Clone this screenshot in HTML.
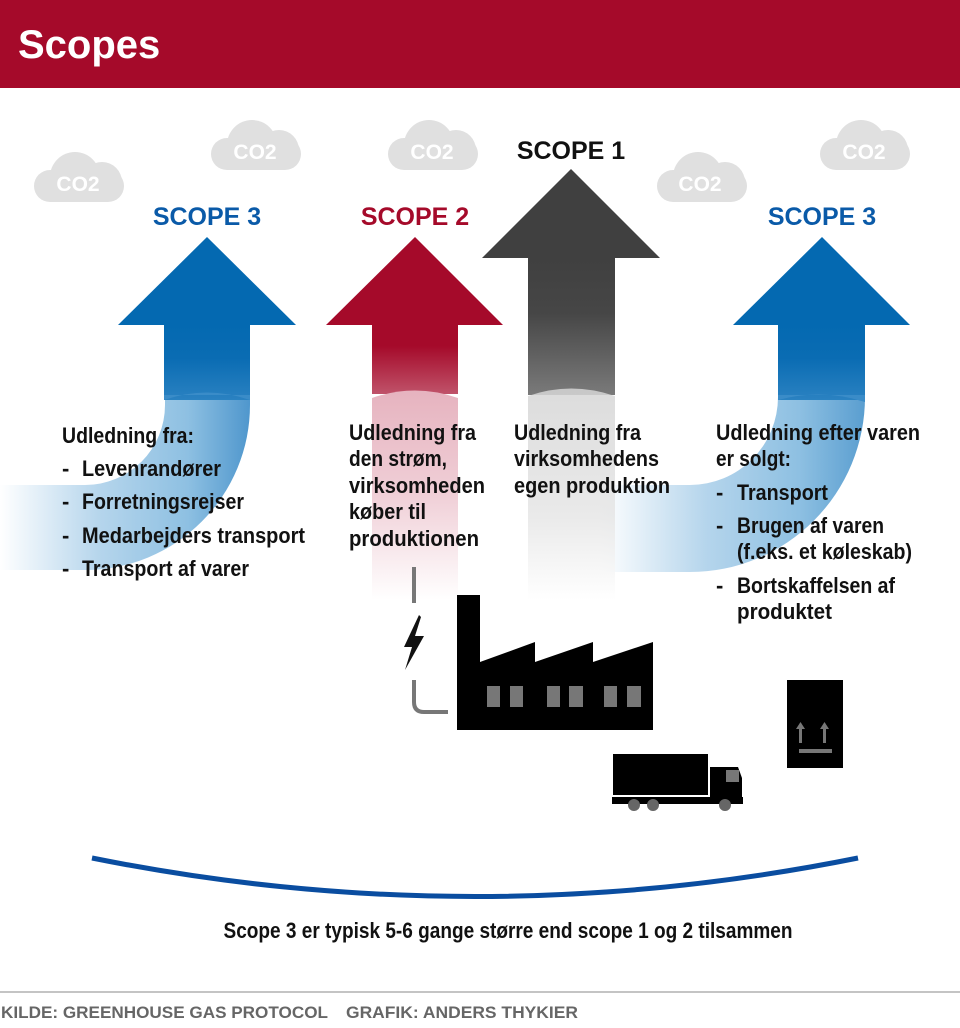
<!DOCTYPE html>
<html><head><meta charset="utf-8"><style>
html,body{margin:0;padding:0;background:#fff;}
svg{display:block;}
text{font-family:"Liberation Sans Narrow","Liberation Sans",sans-serif;font-weight:bold;}
</style></head><body>
<svg width="960" height="1028" viewBox="0 0 960 1028" xmlns="http://www.w3.org/2000/svg">
<defs>
<linearGradient id="bShaft" x1="0" y1="325" x2="0" y2="420" gradientUnits="userSpaceOnUse">
<stop offset="0" stop-color="#0469b1"/><stop offset="0.35" stop-color="#0a6cb3"/><stop offset="1" stop-color="#3a8cc8"/></linearGradient>
<linearGradient id="bBandL" x1="0" y1="0" x2="250" y2="0" gradientUnits="userSpaceOnUse">
<stop offset="0" stop-color="#b5d5ec" stop-opacity="0"/><stop offset="0.4" stop-color="#b5d5ec"/><stop offset="0.75" stop-color="#8ec0e2"/><stop offset="1" stop-color="#4f97cd"/></linearGradient>
<linearGradient id="bBandR" x1="600" y1="0" x2="865" y2="0" gradientUnits="userSpaceOnUse">
<stop offset="0" stop-color="#b5d5ec" stop-opacity="0"/><stop offset="0.4" stop-color="#b5d5ec"/><stop offset="0.75" stop-color="#8ec0e2"/><stop offset="1" stop-color="#5a9ed0"/></linearGradient>
<linearGradient id="rShaft" x1="0" y1="325" x2="0" y2="395" gradientUnits="userSpaceOnUse">
<stop offset="0" stop-color="#a50a2a"/><stop offset="0.3" stop-color="#a50a2a"/><stop offset="1" stop-color="#c0546b"/></linearGradient>
<linearGradient id="rLow" x1="0" y1="390" x2="0" y2="600" gradientUnits="userSpaceOnUse">
<stop offset="0" stop-color="#e6b3bf"/><stop offset="0.5" stop-color="#f0cfd7"/><stop offset="1" stop-color="#ffffff"/></linearGradient>
<linearGradient id="kShaft" x1="0" y1="258" x2="0" y2="395" gradientUnits="userSpaceOnUse">
<stop offset="0" stop-color="#404040"/><stop offset="0.4" stop-color="#464646"/><stop offset="1" stop-color="#7a7a7a"/></linearGradient>
<linearGradient id="kLow" x1="0" y1="390" x2="0" y2="600" gradientUnits="userSpaceOnUse">
<stop offset="0" stop-color="#d6d6d6"/><stop offset="0.6" stop-color="#e6e6e6"/><stop offset="1" stop-color="#ffffff"/></linearGradient>
</defs>

<rect x="0" y="0" width="960" height="88" fill="#a50a2a"/>
<text x="18" y="58" font-size="40" fill="#fff" style="font-family:'Liberation Sans',sans-serif">Scopes</text>

<!-- clouds -->
<g fill="#e0e0e0">
<g transform="translate(34,152)"><rect x="0" y="18" width="90" height="32" rx="16"/><circle cx="41" cy="25" r="25"/><circle cx="68" cy="30" r="20"/></g>
<g transform="translate(211,120)"><rect x="0" y="18" width="90" height="32" rx="16"/><circle cx="41" cy="25" r="25"/><circle cx="68" cy="30" r="20"/></g>
<g transform="translate(388,120)"><rect x="0" y="18" width="90" height="32" rx="16"/><circle cx="41" cy="25" r="25"/><circle cx="68" cy="30" r="20"/></g>
<g transform="translate(657,152)"><rect x="0" y="18" width="90" height="32" rx="16"/><circle cx="41" cy="25" r="25"/><circle cx="68" cy="30" r="20"/></g>
<g transform="translate(820,120)"><rect x="0" y="18" width="90" height="32" rx="16"/><circle cx="41" cy="25" r="25"/><circle cx="68" cy="30" r="20"/></g>
</g>
<g fill="#fff" font-size="21" text-anchor="middle">
<text x="78" y="191">CO2</text><text x="255" y="159">CO2</text><text x="432" y="159">CO2</text><text x="700" y="191">CO2</text><text x="864" y="159">CO2</text>
</g>

<!-- scope labels -->
<g font-size="25" text-anchor="middle">
<text x="207" y="225" fill="#0a5aa8">SCOPE 3</text>
<text x="415" y="225" fill="#a50a2a">SCOPE 2</text>
<text x="571" y="159" fill="#111">SCOPE 1</text>
<text x="822" y="225" fill="#0a5aa8">SCOPE 3</text>
</g>

<!-- left scope 3 arrow -->
<path d="M250,395 L250,405 A165,165 0 0 1 85,570 L0,570 L0,485 L85,485 A80,80 0 0 0 165,405 L165,398 Q207,385 250,395 Z" fill="url(#bBandL)"/>
<rect x="164" y="324" width="86" height="76" fill="url(#bShaft)"/>
<path d="M164,400 Q207,385 250,400 L250,395 L164,395 Z" fill="#3a8cc8"/>
<polygon points="207,237 296,325 118,325" fill="#0469b1"/>

<!-- scope 2 arrow -->
<rect x="372" y="324" width="86" height="70" fill="url(#rShaft)"/>
<path d="M372,398 Q415,383 458,398 L458,600 L372,600 Z" fill="url(#rLow)"/>
<polygon points="415,237 503,325 326,325" fill="#a50a2a"/>

<!-- right scope 3 arrow band (behind scope 1) -->
<path d="M865,395 L865,397 A175,175 0 0 1 690,572 L600,572 L600,485 L690,485 A88,88 0 0 0 778,397 L778,398 Q822,385 865,395 Z" fill="url(#bBandR)"/>

<!-- scope 1 arrow -->
<rect x="528" y="257" width="87" height="138" fill="url(#kShaft)"/>
<path d="M528,396 Q571,381 615,396 L615,600 L528,600 Z" fill="url(#kLow)" fill-opacity="0.85"/>
<polygon points="571,169 660,258 482,258" fill="#404040"/>

<!-- right scope 3 shaft -->
<rect x="778" y="324" width="87" height="76" fill="url(#bShaft)"/>
<path d="M778,400 Q822,388 865,402 L865,395 L778,395 Z" fill="#3a8cc8"/>
<polygon points="822,237 910,325 733,325" fill="#0469b1"/>

<!-- texts -->
<g font-size="22" fill="#111">
<text x="62" y="443" textLength="132" lengthAdjust="spacingAndGlyphs">Udledning fra:</text>
<text x="62" y="476">-</text><text x="82" y="476" textLength="139" lengthAdjust="spacingAndGlyphs">Levenrandører</text>
<text x="62" y="509">-</text><text x="82" y="509" textLength="162" lengthAdjust="spacingAndGlyphs">Forretningsrejser</text>
<text x="62" y="543">-</text><text x="82" y="543" textLength="223" lengthAdjust="spacingAndGlyphs">Medarbejders transport</text>
<text x="62" y="576">-</text><text x="82" y="576" textLength="167" lengthAdjust="spacingAndGlyphs">Transport af varer</text>

<text x="349" y="440" textLength="127" lengthAdjust="spacingAndGlyphs">Udledning fra</text>
<text x="349" y="466" textLength="98" lengthAdjust="spacingAndGlyphs">den strøm,</text>
<text x="349" y="493" textLength="136" lengthAdjust="spacingAndGlyphs">virksomheden</text>
<text x="349" y="519" textLength="77" lengthAdjust="spacingAndGlyphs">køber til</text>
<text x="349" y="546" textLength="130" lengthAdjust="spacingAndGlyphs">produktionen</text>

<text x="514" y="440" textLength="127" lengthAdjust="spacingAndGlyphs">Udledning fra</text>
<text x="514" y="466" textLength="145" lengthAdjust="spacingAndGlyphs">virksomhedens</text>
<text x="514" y="493" textLength="156" lengthAdjust="spacingAndGlyphs">egen produktion</text>

<text x="716" y="440" textLength="204" lengthAdjust="spacingAndGlyphs">Udledning efter varen</text>
<text x="716" y="466" textLength="75" lengthAdjust="spacingAndGlyphs">er solgt:</text>
<text x="716" y="500">-</text><text x="737" y="500" textLength="91" lengthAdjust="spacingAndGlyphs">Transport</text>
<text x="716" y="533">-</text><text x="737" y="533" textLength="147" lengthAdjust="spacingAndGlyphs">Brugen af varen</text>
<text x="737" y="559" textLength="175" lengthAdjust="spacingAndGlyphs">(f.eks. et køleskab)</text>
<text x="716" y="593">-</text><text x="737" y="593" textLength="158" lengthAdjust="spacingAndGlyphs">Bortskaffelsen af</text>
<text x="737" y="619" textLength="95" lengthAdjust="spacingAndGlyphs">produktet</text>
</g>

<!-- power line -->
<g stroke="#777" stroke-width="4" fill="none">
<line x1="414" y1="567" x2="414" y2="603"/>
<path d="M414,680 L414,702 Q414,712 424,712 L448,712"/>
</g>
<polygon points="419,615 404,647 412,647 405,670 424,636 415,636 421,617" fill="#111"/>

<!-- factory -->
<path d="M457,730 L457,595 L480,595 L480,662 L535,642 L535,662 L593,642 L593,662 L653,642 L653,730 Z" fill="#000"/>
<g fill="#777">
<rect x="487" y="686" width="13" height="21"/><rect x="510" y="686" width="13" height="21"/>
<rect x="547" y="686" width="13" height="21"/><rect x="569" y="686" width="14" height="21"/>
<rect x="604" y="686" width="13" height="21"/><rect x="627" y="686" width="14" height="21"/>
</g>

<!-- truck -->
<rect x="613" y="754" width="95" height="41" fill="#000"/>
<path d="M710,767 L738,767 L742,778 L742,800 L710,800 Z" fill="#000"/>
<rect x="726" y="770" width="13" height="12" fill="#777"/>
<rect x="612" y="797" width="131" height="7" fill="#000"/>
<g fill="#666"><circle cx="634" cy="805" r="6"/><circle cx="653" cy="805" r="6"/><circle cx="725" cy="805" r="6"/></g>

<!-- box -->
<rect x="787" y="680" width="56" height="88" fill="#000"/>
<g fill="#777">
<rect x="799" y="728" width="3" height="15"/><polygon points="796,729 800.5,722 805,729"/>
<rect x="823" y="728" width="3" height="15"/><polygon points="820,729 824.5,722 829,729"/>
<rect x="799" y="749" width="33" height="4"/>
</g>

<!-- arc -->
<path d="M92,858 Q475,935 858,858" stroke="#0a4da0" stroke-width="5" fill="none"/>
<text x="508" y="938" font-size="22" text-anchor="middle" fill="#111" textLength="569" lengthAdjust="spacingAndGlyphs">Scope 3 er typisk 5-6 gange større end scope 1 og 2 tilsammen</text>

<!-- footer -->
<line x1="0" y1="992" x2="960" y2="992" stroke="#888" stroke-width="1"/>
<text x="1" y="1018" font-size="17" fill="#666" textLength="327" lengthAdjust="spacingAndGlyphs">KILDE: GREENHOUSE GAS PROTOCOL</text>
<text x="346" y="1018" font-size="17" fill="#666" textLength="232" lengthAdjust="spacingAndGlyphs">GRAFIK: ANDERS THYKIER</text>
</svg>
</body></html>
